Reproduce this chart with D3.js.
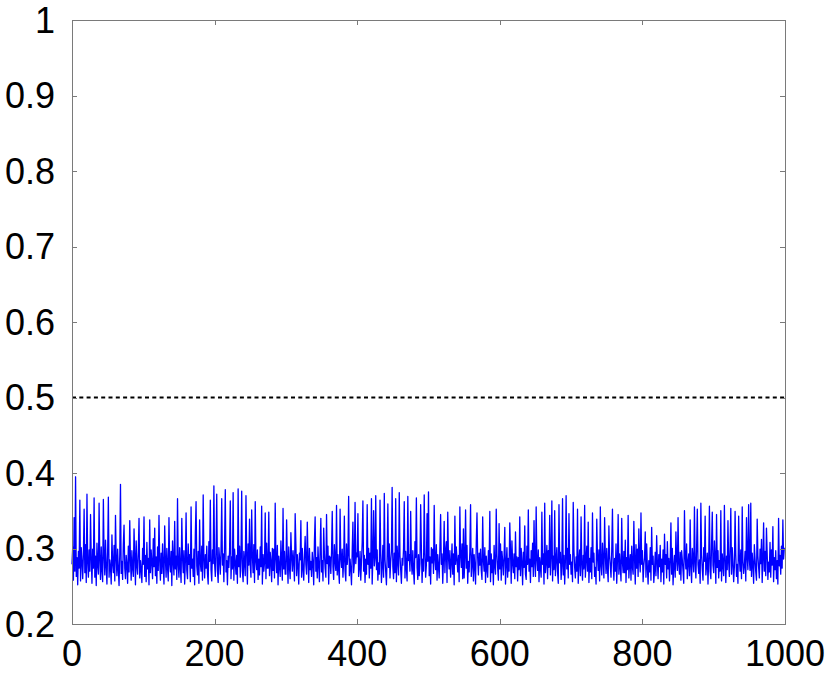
<!DOCTYPE html>
<html>
<head>
<meta charset="utf-8">
<script src="https://cdn.jsdelivr.net/npm/d3@7"></script>
<style>
	html, body { margin: 0; padding: 0; background: #fff; }
	svg { display: block; }
	.tick-label { font-family: 'Liberation Sans', Arial, sans-serif; font-size: 36px; fill: #000; }
</style>
</head>
<body>
<svg id="chart-svg" width="831" height="674"></svg>
<script>
// axis ticks
const xTicks = [0, 200, 400, 600, 800, 1000];
const yTicks = [0.2, 0.3, 0.4, 0.5, 0.6, 0.7, 0.8, 0.9, 1];
const yTickLabels = ['0.2', '0.3', '0.4', '0.5', '0.6', '0.7', '0.8', '0.9', '1'];

// reference level (dashed)
const threshold = 0.5;

const seriesValues = [
	0.279,0.302,0.258,0.341,0.27,0.395,0.263,0.288,0.252,0.296,0.274,0.364,0.257,0.301,0.283,0.26,0.292,0.352,0.268,0.305,0.255,0.372,0.281,0.262,0.298,
	0.27,0.345,0.286,0.254,0.299,0.274,0.367,0.262,0.29,0.251,0.307,0.278,0.266,0.36,0.284,0.259,0.302,0.271,0.256,0.365,0.289,0.265,0.311,0.276,0.253,
	0.296,0.368,0.262,0.285,0.275,0.253,0.318,0.28,0.268,0.304,0.257,0.344,0.287,0.264,0.299,0.272,0.251,0.293,0.385,0.267,0.283,0.259,0.306,0.331,0.274,
	0.26,0.291,0.278,0.254,0.303,0.269,0.337,0.285,0.258,0.297,0.274,0.263,0.326,0.289,0.252,0.31,0.277,0.266,0.295,0.34,0.261,0.284,0.272,0.255,0.3,
	0.279,0.342,0.263,0.291,0.256,0.308,0.273,0.287,0.252,0.338,0.268,0.298,0.281,0.26,0.313,0.276,0.327,0.264,0.289,0.254,0.302,0.271,0.344,0.283,0.258,
	0.294,0.267,0.306,0.277,0.253,0.33,0.286,0.262,0.3,0.274,0.257,0.341,0.28,0.269,0.296,0.251,0.31,0.284,0.265,0.336,0.273,0.29,0.259,0.366,0.278,
	0.262,0.301,0.275,0.255,0.34,0.288,0.268,0.297,0.253,0.283,0.347,0.271,0.26,0.306,0.279,0.292,0.256,0.355,0.274,0.286,0.263,0.299,0.252,0.32,0.362,
	0.277,0.265,0.296,0.254,0.338,0.281,0.27,0.303,0.258,0.371,0.285,0.261,0.292,0.274,0.303,0.267,0.253,0.309,0.283,0.364,0.272,0.257,0.298,0.28,0.383,
	0.28,0.263,0.294,0.372,0.271,0.255,0.301,0.287,0.266,0.297,0.366,0.278,0.293,0.256,0.306,0.378,0.269,0.284,0.252,0.29,0.275,0.297,0.363,0.26,0.289,
	0.273,0.374,0.258,0.299,0.282,0.266,0.291,0.254,0.379,0.276,0.303,0.262,0.287,0.376,0.27,0.256,0.296,0.281,0.264,0.37,0.293,0.253,0.306,0.278,0.339,
	0.278,0.262,0.351,0.29,0.268,0.305,0.255,0.362,0.283,0.272,0.298,0.259,0.286,0.265,0.302,0.276,0.356,0.253,0.292,0.27,0.281,0.347,0.26,0.307,0.274,
	0.274,0.348,0.264,0.295,0.283,0.256,0.3,0.271,0.299,0.261,0.36,0.287,0.268,0.304,0.252,0.29,0.277,0.263,0.31,0.282,0.258,0.353,0.273,0.296,0.266,
	0.266,0.338,0.285,0.254,0.302,0.275,0.26,0.321,0.289,0.27,0.297,0.281,0.257,0.346,0.306,0.264,0.292,0.277,0.253,0.294,0.285,0.337,0.262,0.3,0.273,
	0.258,0.291,0.316,0.279,0.266,0.335,0.287,0.255,0.3,0.272,0.283,0.263,0.295,0.281,0.252,0.309,0.342,0.27,0.288,0.261,0.302,0.278,0.256,0.298,0.34,
	0.269,0.284,0.257,0.327,0.293,0.274,0.262,0.345,0.28,0.303,0.253,0.29,0.288,0.267,0.296,0.349,0.276,0.259,0.305,0.284,0.271,0.357,0.265,0.292,0.271,
	0.254,0.352,0.287,0.275,0.299,0.262,0.283,0.343,0.27,0.257,0.306,0.279,0.292,0.369,0.264,0.286,0.272,0.252,0.297,0.335,0.268,0.281,0.361,0.28,0.294,
	0.289,0.346,0.263,0.275,0.296,0.258,0.283,0.308,0.363,0.27,0.291,0.255,0.286,0.266,0.358,0.279,0.3,0.261,0.294,0.274,0.366,0.253,0.288,0.35,0.277,
	0.287,0.37,0.272,0.298,0.258,0.281,0.266,0.364,0.293,0.255,0.277,0.304,0.262,0.373,0.285,0.269,0.252,0.29,0.359,0.275,0.306,0.261,0.283,0.296,0.381,
	0.276,0.26,0.294,0.268,0.366,0.256,0.303,0.283,0.265,0.374,0.29,0.272,0.254,0.287,0.278,0.3,0.362,0.261,0.296,0.274,0.257,0.369,0.284,0.292,0.27,
	0.349,0.284,0.266,0.297,0.271,0.253,0.309,0.288,0.367,0.275,0.259,0.292,0.264,0.28,0.358,0.301,0.255,0.286,0.27,0.371,0.294,0.262,0.278,0.346,0.283,
	0.375,0.264,0.289,0.253,0.301,0.281,0.299,0.267,0.357,0.285,0.272,0.305,0.258,0.292,0.276,0.261,0.303,0.345,0.279,0.293,0.254,0.286,0.336,0.268,0.296,
	0.309,0.255,0.348,0.288,0.273,0.297,0.262,0.281,0.306,0.266,0.293,0.252,0.343,0.279,0.302,0.285,0.269,0.291,0.256,0.355,0.29,0.275,0.306,0.26,0.326,
	0.261,0.288,0.351,0.274,0.304,0.254,0.283,0.269,0.296,0.358,0.263,0.28,0.3,0.257,0.292,0.276,0.253,0.308,0.347,0.287,0.265,0.294,0.278,0.299,0.271,
	0.259,0.342,0.284,0.27,0.301,0.255,0.29,0.273,0.262,0.297,0.279,0.349,0.256,0.293,0.268,0.285,0.252,0.304,0.277,0.266,0.352,0.291,0.274,0.258,0.333,
	0.273,0.306,0.258,0.296,0.284,0.265,0.29,0.328,0.253,0.279,0.301,0.262,0.287,0.27,0.334,0.297,0.254,0.31,0.281,0.268,0.293,0.26,0.322,0.276,0.289,
	0.257,0.288,0.272,0.342,0.264,0.3,0.282,0.252,0.295,0.275,0.33,0.266,0.259,0.303,0.279,0.351,0.27,0.286,0.255,0.297,0.276,0.307,0.263,0.337,0.281,
	0.263,0.355,0.285,0.271,0.298,0.256,0.288,0.274,0.262,0.348,0.279,0.293,0.253,0.36,0.268,0.282,0.304,0.26,0.297,0.275,0.344,0.265,0.29,0.363,0.257,
	0.29,0.272,0.35,0.264,0.285,0.301,0.269,0.254,0.358,0.281,0.295,0.259,0.277,0.366,0.265,0.291,0.253,0.284,0.37,0.273,0.3,0.261,0.346,0.279,0.292,
	0.266,0.282,0.256,0.361,0.296,0.275,0.261,0.289,0.27,0.352,0.254,0.284,0.298,0.264,0.342,0.279,0.258,0.291,0.273,0.357,0.262,0.286,0.303,0.27,0.335,
	0.255,0.287,0.269,0.301,0.26,0.347,0.282,0.294,0.263,0.275,0.253,0.339,0.289,0.271,0.298,0.257,0.355,0.277,0.265,0.307,0.284,0.261,0.341,0.292,0.267,
	0.3,0.273,0.256,0.33,0.29,0.277,0.262,0.297,0.352,0.281,0.258,0.287,0.27,0.306,0.254,0.284,0.345,0.266,0.293,0.275,0.257,0.34,0.282,0.268,0.296,
	0.268,0.311,0.255,0.288,0.272,0.344,0.261,0.28,0.292,0.258,0.303,0.276,0.266,0.336,0.286,0.253,0.305,0.274,0.299,0.263,0.326,0.284,0.269,0.347,0.279,
	0.297,0.256,0.278,0.288,0.322,0.262,0.306,0.274,0.253,0.284,0.269,0.301,0.258,0.328,0.279,0.29,0.255,0.271,0.295,0.264,0.317,0.282,0.26,0.292,0.276,
	0.304,0.256,0.286,0.269,0.298,0.253,0.319,0.279,0.292,0.261,0.309,0.273,0.287,0.257,0.283,0.334,0.266,0.3,0.252,0.277,0.291,0.262,0.322,0.285,0.271,
	0.341,0.279,0.266,0.295,0.258,0.297,0.285,0.27,0.254,0.35,0.289,0.273,0.306,0.26,0.282,0.293,0.264,0.338,0.276,0.255,0.3,0.287,0.269,0.355,0.281,
	0.261,0.299,0.352,0.279,0.267,0.285,0.254,0.36,0.291,0.272,0.258,0.301,0.283,0.343,0.265,0.277,0.294,0.253,0.287,0.356,0.27,0.26,0.305,0.348,0.278,
	0.268,0.31,0.288,0.254,0.345,0.275,0.297,0.261,0.284,0.27,0.35,0.257,0.293,0.278,0.264,0.357,0.285,0.255,0.29,0.272,0.337,0.281,0.263,0.303,0.353,
	0.266,0.301,0.281,0.256,0.276,0.349,0.291,0.263,0.279,0.254,0.343,0.287,0.27,0.298,0.26,0.355,0.282,0.267,0.278,0.296,0.257,0.341,0.288,0.272,0.358,
	0.285,0.271,0.36,0.263,0.294,0.279,0.254,0.305,0.286,0.269,0.258,0.339,0.29,0.275,0.261,0.299,0.28,0.312,0.255,0.287,0.334,0.27,0.296,0.264,0.327,
	0.294,0.259,0.282,0.269,0.308,0.262,0.298,0.278,0.329,0.256,0.288,0.272,0.297,0.26,0.284,0.253,0.34,0.277,0.291,0.266,0.303,0.274,0.338,0.286,0.301
];

const svg = d3.select('#chart-svg');
const plot = { left: 72, right: 785, top: 20, bottom: 624 };

const xScale = d3.scaleLinear().domain([0, 1000]).range([plot.left, plot.right]);
const yScale = d3.scaleLinear().domain([0.2, 1]).range([plot.bottom, plot.top]);

// series
const line = d3.line().x((d, i) => xScale(i)).y((d) => yScale(d));
svg.append('path')
	.datum(seriesValues)
	.attr('fill', 'none')
	.attr('stroke', '#0000ff')
	.attr('stroke-width', 1.3)
	.attr('stroke-linejoin', 'round')
	.attr('d', line);

// dashed reference line
svg.append('line')
	.attr('x1', xScale(0))
	.attr('x2', xScale(1000))
	.attr('y1', yScale(threshold))
	.attr('y2', yScale(threshold))
	.attr('stroke', '#000')
	.attr('stroke-width', 2)
	.attr('stroke-dasharray', '4 3.3');

// inward ticks on all four sides
const tickLen = 5;
const axisColor = '#7a7a7a';
let tickG = svg.append('g').attr('stroke', axisColor).attr('stroke-width', 1);
yTicks.forEach((t) => {
	let y = Math.round(yScale(t)) + 0.5;
	tickG.append('line').attr('x1', plot.left).attr('x2', plot.left + tickLen).attr('y1', y).attr('y2', y);
	tickG.append('line').attr('x1', plot.right).attr('x2', plot.right - tickLen).attr('y1', y).attr('y2', y);
});
xTicks.forEach((t) => {
	let x = Math.round(xScale(t)) + 0.5;
	tickG.append('line').attr('x1', x).attr('x2', x).attr('y1', plot.bottom).attr('y2', plot.bottom - tickLen);
	tickG.append('line').attr('x1', x).attr('x2', x).attr('y1', plot.top).attr('y2', plot.top + tickLen);
});

// frame
svg.append('rect')
	.attr('x', plot.left + 0.5)
	.attr('y', plot.top + 0.5)
	.attr('width', plot.right - plot.left)
	.attr('height', plot.bottom - plot.top)
	.attr('fill', 'none')
	.attr('stroke', axisColor)
	.attr('stroke-width', 1);

// tick labels
svg.selectAll('.y-label')
	.data(yTicks)
	.enter()
	.append('text')
	.attr('class', 'tick-label y-label')
	.attr('x', plot.left - 17)
	.attr('y', (d) => yScale(d))
	.attr('dy', '0.36em')
	.attr('text-anchor', 'end')
	.text((d, i) => yTickLabels[i]);

svg.selectAll('.x-label')
	.data(xTicks)
	.enter()
	.append('text')
	.attr('class', 'tick-label x-label')
	.attr('x', (d) => xScale(d))
	.attr('y', 666)
	.attr('text-anchor', 'middle')
	.text((d) => d);
</script>
</body>
</html>
